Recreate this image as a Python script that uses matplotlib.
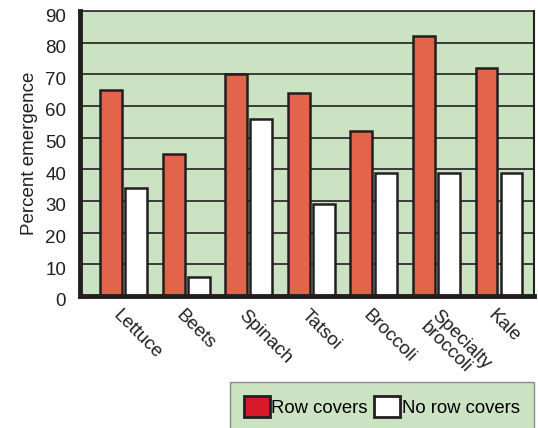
import numpy as np
import matplotlib
matplotlib.use('Agg')
import matplotlib.pyplot as plt
import matplotlib.transforms as mtransforms
from matplotlib.patches import Patch

plt.rcParams['font.family'] = ['Liberation Sans', 'DejaVu Sans']

crops = ['Lettuce', 'Beets', 'Spinach', 'Tatsoi', 'Broccoli', 'Specialty\nbroccoli', 'Kale']
row_covers = [65, 45, 70, 64, 52, 82, 72]
no_row_covers = [34, 6, 56, 29, 39, 39, 39]
yticks = [0, 10, 20, 30, 40, 50, 60, 70, 80, 90]

green = '#cbe3c3'
red = '#e2654b'
dark = '#231f20'

fig = plt.figure(figsize=(5.38, 4.28), dpi=100)
ax = fig.add_axes([80/538, 1-296/428, 454/538, 285/428])
ax.set_facecolor(green)

x = np.arange(len(crops))
w = 0.35
ax.bar(x - 0.2, row_covers, w, color=red, edgecolor=dark, linewidth=1.8, zorder=3)
ax.bar(x + 0.2, no_row_covers, w, color='white', edgecolor=dark, linewidth=1.8, zorder=3)

for t in yticks[1:-1]:
    ax.axhline(t, color=dark, lw=1.2, zorder=1)

ax.set_xlim(-0.70, 6.56)
ax.set_ylim(0, 90)
ax.set_yticks(yticks)
ax.tick_params(axis='y', length=0, pad=10, labelsize=13.5, colors=dark)
shift = mtransforms.ScaledTranslation(0, -4/100, fig.dpi_scale_trans)
for lab in ax.get_yticklabels():
    lab.set_transform(lab.get_transform() + shift)

ax.set_xticks(x - 0.03)
ax.set_xticklabels(crops, rotation=-45, ha='left', va='top', rotation_mode='anchor',
                   fontsize=13.5, color=dark, linespacing=1.0)
ax.tick_params(axis='x', length=0, pad=8)
# the two-line label sits a bit further right in the original
spec = ax.get_xticklabels()[5]
spec.set_transform(spec.get_transform() + mtransforms.ScaledTranslation(6/100, 0, fig.dpi_scale_trans))
ax.set_ylabel('Percent emergence', fontsize=13.5, color=dark, labelpad=5)

ax.spines['left'].set_linewidth(3.5)
ax.spines['bottom'].set_linewidth(3.5)
ax.spines['top'].set_linewidth(1.2)
ax.spines['right'].set_linewidth(1.5)
for s in ax.spines.values():
    s.set_color(dark)
    s.set_zorder(4)

handles = [Patch(facecolor='#d7192a', edgecolor=dark, linewidth=2),
           Patch(facecolor='white', edgecolor=dark, linewidth=2)]
leg = fig.legend(handles, ['Row covers', 'No row covers'], loc='upper right',
                 bbox_to_anchor=(534/538, 1-382/428), ncol=2, fontsize=13.3,
                 handlelength=1.4, handleheight=1.4, handletextpad=0.1,
                 columnspacing=0.35, borderpad=0.75, borderaxespad=0,
                 fancybox=False)
leg.get_frame().set_facecolor(green)
leg.get_frame().set_edgecolor('#8a8a8a')
leg.get_frame().set_linewidth(1)
leg.get_frame().set_alpha(1)

fig.savefig('out.png', dpi=100)
